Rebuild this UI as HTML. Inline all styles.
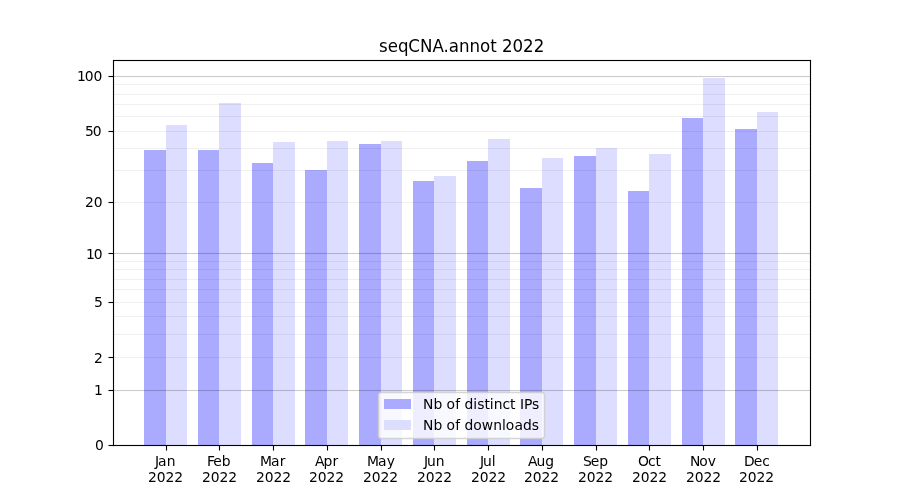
<!DOCTYPE html>
<html lang="en"><head><meta charset="utf-8"><title>seqCNA.annot 2022</title>
<style>html,body{margin:0;padding:0;background:#fff;overflow:hidden}svg{display:block}text{font-family:"DejaVu Sans","Liberation Sans",sans-serif;fill:#000}</style>
</head><body>
<svg width="900" height="500" viewBox="0 0 900 500">
<rect x="0" y="0" width="900" height="500" fill="#ffffff"/>
<g shape-rendering="crispEdges">
<rect x="144" y="150" width="22" height="295" fill="#aaaaff"/>
<rect x="166" y="125" width="21" height="320" fill="#ddddff"/>
<rect x="198" y="150" width="21" height="295" fill="#aaaaff"/>
<rect x="219" y="103" width="22" height="342" fill="#ddddff"/>
<rect x="252" y="163" width="21" height="282" fill="#aaaaff"/>
<rect x="273" y="142" width="22" height="303" fill="#ddddff"/>
<rect x="305" y="170" width="22" height="275" fill="#aaaaff"/>
<rect x="327" y="141" width="21" height="304" fill="#ddddff"/>
<rect x="359" y="144" width="22" height="301" fill="#aaaaff"/>
<rect x="381" y="141" width="21" height="304" fill="#ddddff"/>
<rect x="413" y="181" width="21" height="264" fill="#aaaaff"/>
<rect x="434" y="176" width="22" height="269" fill="#ddddff"/>
<rect x="467" y="161" width="21" height="284" fill="#aaaaff"/>
<rect x="488" y="139" width="22" height="306" fill="#ddddff"/>
<rect x="520" y="188" width="22" height="257" fill="#aaaaff"/>
<rect x="542" y="158" width="21" height="287" fill="#ddddff"/>
<rect x="574" y="156" width="22" height="289" fill="#aaaaff"/>
<rect x="596" y="148" width="21" height="297" fill="#ddddff"/>
<rect x="628" y="191" width="21" height="254" fill="#aaaaff"/>
<rect x="649" y="154" width="22" height="291" fill="#ddddff"/>
<rect x="682" y="118" width="21" height="327" fill="#aaaaff"/>
<rect x="703" y="78" width="22" height="367" fill="#ddddff"/>
<rect x="735" y="129" width="22" height="316" fill="#aaaaff"/>
<rect x="757" y="112" width="21" height="333" fill="#ddddff"/>
</g>
<g fill="#000">
<rect x="113.5" y="356.945" width="697" height="1.11" fill-opacity="0.06"/>
<rect x="113.5" y="333.945" width="697" height="1.11" fill-opacity="0.06"/>
<rect x="113.5" y="315.945" width="697" height="1.11" fill-opacity="0.06"/>
<rect x="113.5" y="301.945" width="697" height="1.11" fill-opacity="0.06"/>
<rect x="113.5" y="288.945" width="697" height="1.11" fill-opacity="0.06"/>
<rect x="113.5" y="278.945" width="697" height="1.11" fill-opacity="0.06"/>
<rect x="113.5" y="268.945" width="697" height="1.11" fill-opacity="0.06"/>
<rect x="113.5" y="260.945" width="697" height="1.11" fill-opacity="0.06"/>
<rect x="113.5" y="201.945" width="697" height="1.11" fill-opacity="0.06"/>
<rect x="113.5" y="169.945" width="697" height="1.11" fill-opacity="0.06"/>
<rect x="113.5" y="147.945" width="697" height="1.11" fill-opacity="0.06"/>
<rect x="113.5" y="130.945" width="697" height="1.11" fill-opacity="0.06"/>
<rect x="113.5" y="115.945" width="697" height="1.11" fill-opacity="0.06"/>
<rect x="113.5" y="103.945" width="697" height="1.11" fill-opacity="0.06"/>
<rect x="113.5" y="93.945" width="697" height="1.11" fill-opacity="0.06"/>
<rect x="113.5" y="83.945" width="697" height="1.11" fill-opacity="0.06"/>
<rect x="113.5" y="389.945" width="697" height="1.11" fill-opacity="0.2"/>
<rect x="113.5" y="252.945" width="697" height="1.11" fill-opacity="0.2"/>
<rect x="113.5" y="75.945" width="697" height="1.11" fill-opacity="0.2"/>
</g>
<g fill="#000">
<rect x="108.5" y="444.945" width="5" height="1.11"/>
<rect x="108.5" y="389.945" width="5" height="1.11"/>
<rect x="108.5" y="356.945" width="5" height="1.11"/>
<rect x="108.5" y="301.945" width="5" height="1.11"/>
<rect x="108.5" y="252.945" width="5" height="1.11"/>
<rect x="108.5" y="201.945" width="5" height="1.11"/>
<rect x="108.5" y="130.945" width="5" height="1.11"/>
<rect x="108.5" y="75.945" width="5" height="1.11"/>
<rect x="165.945" y="445.5" width="1.11" height="5"/>
<rect x="218.945" y="445.5" width="1.11" height="5"/>
<rect x="272.945" y="445.5" width="1.11" height="5"/>
<rect x="326.945" y="445.5" width="1.11" height="5"/>
<rect x="380.945" y="445.5" width="1.11" height="5"/>
<rect x="433.945" y="445.5" width="1.11" height="5"/>
<rect x="487.945" y="445.5" width="1.11" height="5"/>
<rect x="541.945" y="445.5" width="1.11" height="5"/>
<rect x="595.945" y="445.5" width="1.11" height="5"/>
<rect x="648.945" y="445.5" width="1.11" height="5"/>
<rect x="702.945" y="445.5" width="1.11" height="5"/>
<rect x="756.945" y="445.5" width="1.11" height="5"/>
</g>
<g fill="#000"><rect x="112.945" y="59.945" width="1.11" height="386.11"/><rect x="809.945" y="59.945" width="1.11" height="386.11"/><rect x="112.945" y="444.945" width="698.11" height="1.11"/><rect x="112.945" y="59.945" width="698.11" height="1.11"/></g>
<g font-size="13.89px">
<text x="95" y="450">0</text>
<text x="94" y="395">1</text>
<text x="94" y="363">2</text>
<text x="94" y="307">5</text>
<text x="85.875 93.688" y="259">10</text>
<text x="85 93.812" y="207">20</text>
<text x="84.875 92.688" y="136">50</text>
<text x="76.875 84.688 93.516" y="81">100</text>
<text x="154.875 157.953 166.719" y="466">Jan</text><text x="147.875 156.688 165.516 174.344" y="482">2022</text>
<text x="206.875 213.219 221.75" y="466">Feb</text><text x="201.875 210.688 219.516 228.344" y="482">2022</text>
<text x="259.875 270.969 279.719" y="466">Mar</text><text x="255.875 264.688 273.516 282.344" y="482">2022</text>
<text x="314.875 323.609 332.422" y="466">Apr</text><text x="308.875 317.688 326.516 335.344" y="482">2022</text>
<text x="366.875 377.969 386.719" y="466">May</text><text x="362.875 371.688 380.516 389.344" y="482">2022</text>
<text x="423.875 426.953 435.75" y="466">Jun</text><text x="416.875 425.688 434.516 443.344" y="482">2022</text>
<text x="479.875 482.953 491.75" y="466">Jul</text><text x="470.875 479.688 488.516 497.344" y="482">2022</text>
<text x="527.875 536.484 545.281" y="466">Aug</text><text x="523.875 532.688 541.516 550.344" y="482">2022</text>
<text x="582.875 590.672 599.219" y="466">Sep</text><text x="577.875 586.688 595.516 604.344" y="482">2022</text>
<text x="637.875 647.906 655.422" y="466">Oct</text><text x="631.875 640.688 649.516 658.344" y="482">2022</text>
<text x="689.875 699.25 707.734" y="466">Nov</text><text x="685.875 694.688 703.516 712.344" y="482">2022</text>
<text x="743.875 753.672 762.219" y="466">Dec</text><text x="738.875 747.688 756.516 765.344" y="482">2022</text>
</g>
<text transform="translate(0,52) scale(1,1.03)" x="379 387.672 397.922 408.359 420 432.453 443.438 448.719 458.938 469.484 479.922 490.234 496.641 501.938 512.531 523.125 533.734" y="0" font-size="16.67px">seqCNA.annot 2022</text>
<rect x="378.5" y="392.5" width="166" height="46" rx="2.78" ry="2.78" fill="#fff" fill-opacity="0.8" stroke="#cccccc" stroke-opacity="0.8" stroke-width="1.45"/>
<rect x="384" y="399" width="27" height="10" fill="#aaaaff" shape-rendering="crispEdges"/>
<rect x="384" y="420" width="27" height="10" fill="#ddddff" shape-rendering="crispEdges"/>
<g font-size="13.89px"><text x="422.875 433.5 442.297 446.469 455.203 460.094 464.5 473.312 477.156 484.391 489.828 493.688 502.484 510.109 515.547 519.953 523.922 532.047" y="409">Nb of distinct IPs</text>
<text x="422.875 433.5 442.297 446.469 455.328 460.219 464.375 473.188 481.672 493.266 502.062 505.672 514.406 522.906 531.719" y="430">Nb of downloads</text></g>
</svg></body></html>
